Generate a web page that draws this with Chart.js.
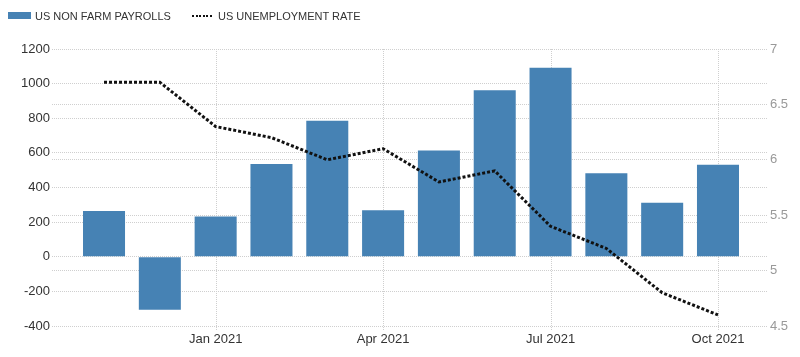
<!DOCTYPE html>
<html>
<head>
<meta charset="utf-8">
<script src="https://cdn.jsdelivr.net/npm/chart.js@4/dist/chart.umd.min.js"></script>
<style>
  html, body { margin: 0; padding: 0; background: #fff; }
  #wrap { position: relative; width: 800px; height: 357px; }
  #legend { position: absolute; left: 0; top: 0; width: 800px; height: 30px; font-family: "Liberation Sans", Arial, sans-serif; font-size: 11px; color: #333; }
  .item { position: absolute; top: 11px; height: 11px; line-height: 11px; white-space: nowrap; }
  .box { position: absolute; left: 8px; top: 12px; width: 23px; height: 7px; background: #4682B4; }
  .dots { position: absolute; left: 192px; top: 15px; width: 21px; height: 2px; background: repeating-linear-gradient(to right, #111 0 2px, transparent 2px 3.5px); }
</style>
</head>
<body>
<div id="wrap">
  <canvas id="c" width="800" height="357"></canvas>
  <div id="legend">
    <div class="box"></div><span class="item" style="left:35px">US NON FARM PAYROLLS</span>
    <div class="dots"></div><span class="item" style="left:218px">US UNEMPLOYMENT RATE</span>
  </div>
</div>
<script>
const categories = ['Nov 2020','Dec 2020','Jan 2021','Feb 2021','Mar 2021','Apr 2021','May 2021','Jun 2021','Jul 2021','Aug 2021','Sep 2021','Oct 2021'];
const payrolls = [264, -306, 233, 536, 785, 269, 614, 962, 1091, 483, 312, 531];
const unemployment = [6.7, 6.7, 6.3, 6.2, 6.0, 6.1, 5.8, 5.9, 5.4, 5.2, 4.8, 4.6];
const xTickLabels = ['Jan 2021','Apr 2021','Jul 2021','Oct 2021'];
const leftTicks = [-400, -200, 0, 200, 400, 600, 800, 1000, 1200];
const rightTicks = [4.5, 5, 5.5, 6, 6.5, 7];

const barData = payrolls.map((v, i) => ({ x: i, y: v }));
const lineData = unemployment.map((v, i) => ({ x: i, y: v }));
const xTickIdx = xTickLabels.map(l => categories.indexOf(l));

const gridColor = '#cfcfcf';
const fontFam = '"Liberation Sans", Arial, sans-serif';

// vertical grid lines at the x ticks, drawn through the x scale
const vGrid = {
  id: 'vgrid',
  beforeDatasetsDraw(chart) {
    const { ctx, chartArea, scales } = chart;
    const x = scales.x;
    ctx.save();
    ctx.strokeStyle = gridColor;
    ctx.lineWidth = 1;
    ctx.setLineDash([1, 1]);
    x.ticks.forEach(t => {
      const px = Math.round(x.getPixelForValue(t.value)) + 0.5;
      ctx.beginPath();
      ctx.moveTo(px, chartArea.top);
      ctx.lineTo(px, chartArea.bottom + 4);
      ctx.stroke();
    });
    ctx.restore();
  }
};

new Chart(document.getElementById('c'), {
  type: 'bar',
  data: {
    datasets: [
      {
        type: 'line',
        label: 'US UNEMPLOYMENT RATE',
        data: lineData,
        yAxisID: 'y1',
        borderColor: '#111',
        borderWidth: 3,
        borderDash: [3, 2],
        borderCapStyle: 'butt',
        pointRadius: 0,
        tension: 0,
        fill: false,
        order: 0
      },
      {
        type: 'bar',
        label: 'US NON FARM PAYROLLS',
        data: barData,
        yAxisID: 'y',
        backgroundColor: '#4682B4',
        borderWidth: 0,
        categoryPercentage: 0.8365,
        barPercentage: 0.9,
        order: 1
      }
    ]
  },
  plugins: [vGrid],
  options: {
    responsive: false,
    animation: false,
    layout: { padding: { top: 49, left: 0, right: 0, bottom: 0 } },
    plugins: { legend: { display: false }, tooltip: { enabled: false } },
    scales: {
      x: {
        type: 'linear',
        offset: false,
        min: -0.932,
        max: 11.896,
        afterBuildTicks: (s) => { s.ticks = xTickIdx.map(v => ({ value: v })); },
        afterFit: (s) => { s.height = 31; },
        ticks: {
          autoSkip: false,
          maxRotation: 0,
          padding: 2,
          color: '#333',
          font: { family: fontFam, size: 13 },
          callback: (v) => categories[v]
        },
        grid: { offset: false, color: 'rgba(0,0,0,0)', lineWidth: 1, drawTicks: true, tickLength: 4 },
        border: { display: false }
      },
      y: {
        position: 'left',
        min: -400,
        max: 1200,
        afterBuildTicks: (s) => { s.ticks = leftTicks.map(v => ({ value: v })); },
        afterFit: (s) => { s.width = 52; },
        ticks: {
          padding: 2,
          color: '#333',
          font: { family: fontFam, size: 13 },
          callback: (v) => String(v)
        },
        grid: { color: gridColor, lineWidth: 1, drawTicks: false },
        border: { display: false, dash: [1, 1] }
      },
      y1: {
        position: 'right',
        min: 4.5,
        max: 7,
        afterBuildTicks: (s) => { s.ticks = rightTicks.map(v => ({ value: v })); },
        afterFit: (s) => { s.width = 32; },
        ticks: {
          padding: 2,
          color: '#999',
          font: { family: fontFam, size: 13 },
          callback: (v) => String(v)
        },
        grid: { color: gridColor, lineWidth: 1, drawTicks: false, drawOnChartArea: true },
        border: { display: false, dash: [1, 1] }
      }
    }
  }
});
</script>
</body>
</html>
